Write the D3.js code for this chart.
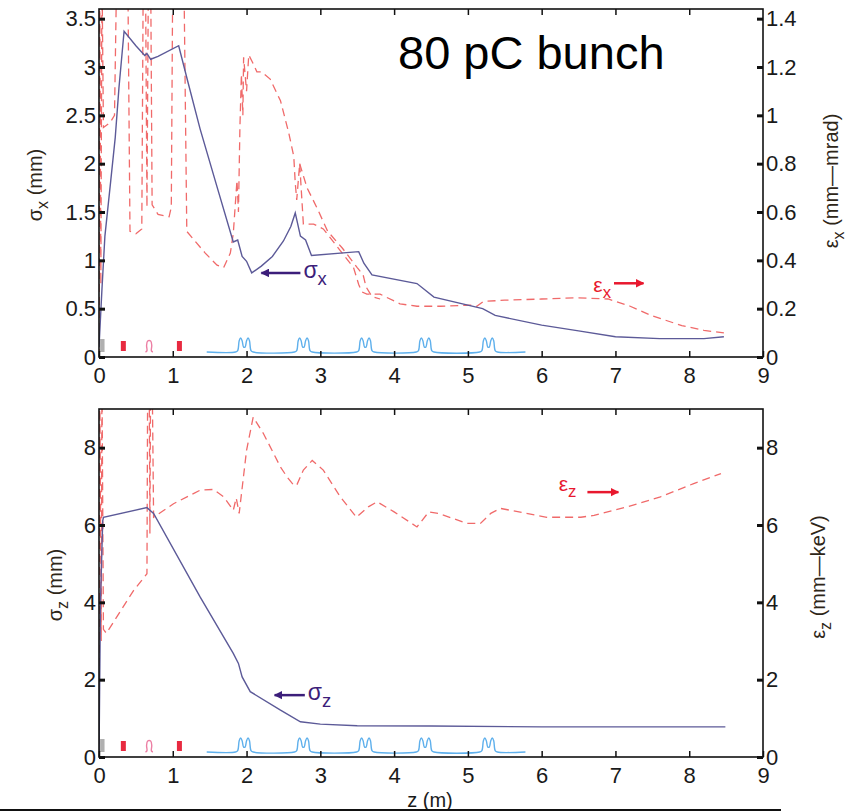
<!DOCTYPE html>
<html lang="en">
<head>
    <meta charset="UTF-8">
    <title>80 pC bunch</title>
    <script src="https://cdn.jsdelivr.net/npm/d3@7"></script>
    <style>
        body { margin: 0; background: #fff; }
        text { font-family: "Liberation Sans", Arial, sans-serif; }
    </style>
</head>
<body>
<div id="container"></div>
<script>
    // ---- data (z in m) ----
    const zTicks = [0, 1, 2, 3, 4, 5, 6, 7, 8, 9];
    const sigxTicks = [0, 0.5, 1, 1.5, 2, 2.5, 3, 3.5];
    const emitxTicks = [0, 0.2, 0.4, 0.6, 0.8, 1, 1.2, 1.4];
    const sigzTicks = [0, 2, 4, 6, 8];
    const emitzTicks = [0, 2, 4, 6, 8];

    // sigma_x (mm), left axis of top panel
    const sigmaX = [[0, 0.1], [0.04, 0.7], [0.08, 1.25], [0.16, 1.83], [0.22, 2.27], [0.27, 2.78], [0.34, 3.37],
        [0.5, 3.22], [0.62, 3.12], [0.65, 3.14], [0.7, 3.08], [0.8, 3.11], [1.08, 3.22], [1.2, 2.86],
        [1.37, 2.36], [1.6, 1.76], [1.82, 1.19], [1.88, 1.21], [1.94, 1.04], [2.0, 0.99], [2.07, 0.87],
        [2.2, 0.94], [2.35, 1.04], [2.5, 1.2], [2.6, 1.35], [2.66, 1.49], [2.73, 1.25], [2.8, 1.21],
        [2.88, 1.05], [3.52, 1.09], [3.59, 0.97], [3.7, 0.85], [4.31, 0.76], [4.54, 0.62], [5.2, 0.5],
        [5.37, 0.43], [6.0, 0.33], [6.5, 0.27], [7.0, 0.21], [7.6, 0.19], [8.2, 0.19], [8.47, 0.21]];

    // emittance x (mm-mrad), right axis of top panel
    const emitX = [[0, 0.0], [0.01, 1.6], [0.025, 0.3], [0.04, 1.6], [0.06, 0.95], [0.15, 0.97], [0.21, 1.0],
        [0.24, 1.6], [0.39, 1.6], [0.42, 0.52], [0.5, 0.51], [0.58, 0.53], [0.6, 1.6], [0.63, 1.6],
        [0.65, 0.62], [0.67, 1.6], [0.7, 1.6], [0.72, 0.63], [0.76, 0.61], [0.8, 0.59], [0.95, 0.58],
        [0.98, 0.62], [1.0, 1.6], [1.15, 1.6], [1.19, 0.52], [1.3, 0.48], [1.44, 0.43], [1.6, 0.38],
        [1.69, 0.37], [1.78, 0.43], [1.82, 0.51], [1.87, 0.73], [1.89, 0.6], [1.91, 0.95], [1.93, 1.17],
        [1.95, 1.0], [1.96, 1.24], [2.0, 1.1], [2.03, 1.25], [2.08, 1.22], [2.14, 1.18], [2.2, 1.18],
        [2.32, 1.15], [2.46, 1.06], [2.57, 0.93], [2.64, 0.83], [2.66, 0.72], [2.68, 0.65], [2.72, 0.8],
        [2.77, 0.55], [2.91, 0.55], [3.04, 0.53], [3.27, 0.44], [3.45, 0.37], [3.52, 0.3], [3.56, 0.27],
        [3.63, 0.26], [3.81, 0.26], [4.08, 0.22], [4.31, 0.21], [4.63, 0.21], [5.03, 0.215], [5.12, 0.21],
        [5.21, 0.23], [5.5, 0.235], [6.0, 0.24], [6.5, 0.245], [6.9, 0.24], [7.2, 0.21], [7.5, 0.17],
        [7.9, 0.13], [8.2, 0.11], [8.47, 0.1]];
    const emitXBranch = [[2.72, 0.8], [2.82, 0.7], [2.95, 0.62], [3.1, 0.52], [3.3, 0.45], [3.5, 0.37],
        [3.58, 0.34], [3.62, 0.29], [3.7, 0.25], [3.81, 0.24]];

    // sigma_z (mm), left axis of bottom panel
    const sigmaZ = [[0, 0], [0.02, 4.0], [0.05, 6.1], [0.06, 6.2], [0.65, 6.45], [0.74, 6.3], [1.37, 4.14],
        [1.82, 2.68], [1.89, 2.42], [1.94, 2.07], [2.05, 1.69], [2.46, 1.21], [2.73, 0.91], [3.0, 0.85],
        [3.5, 0.81], [4.5, 0.8], [6.0, 0.78], [8.49, 0.78]];

    // emittance z (mm-keV), right axis of bottom panel
    const emitZ = [[0, 0], [0.01, 10], [0.03, 3.0], [0.04, 10], [0.06, 3.3], [0.1, 3.2], [0.47, 4.31],
        [0.65, 4.74], [0.66, 10], [0.68, 10], [0.69, 5.78], [0.7, 10], [0.72, 10], [0.74, 6.2],
        [1.01, 6.55], [1.37, 6.9], [1.55, 6.92], [1.69, 6.73], [1.82, 6.38], [1.86, 6.7], [1.9, 6.3],
        [2.0, 7.93], [2.09, 8.79], [2.23, 8.36], [2.46, 7.5], [2.55, 7.24], [2.64, 7.03], [2.68, 7.03],
        [2.77, 7.42], [2.89, 7.67], [3.04, 7.42], [3.27, 6.73], [3.49, 6.2], [3.65, 6.47], [3.77, 6.6],
        [4.0, 6.34], [4.31, 5.95], [4.47, 6.34], [4.6, 6.3], [4.99, 6.04], [5.17, 6.04], [5.31, 6.3],
        [5.44, 6.43], [6.07, 6.2], [6.53, 6.2], [6.71, 6.25], [7.16, 6.47], [7.61, 6.73], [8.06, 7.07],
        [8.43, 7.33]];

    // beamline layout
    const gunZ = [0.015, 0.075];
    const solenoidZ = [0.33, 1.09];
    const buncherZ = [0.68];
    const linacRange = [1.46, 5.78];
    const cavityZ = [1.97, 2.77, 3.61, 4.42, 5.28];
    const cavityProfile = [[-0.12, 0], [-0.09, 0.1], [-0.07, 0.8], [-0.05, 1], [-0.03, 0.8], [-0.01, 0.35],
        [0.01, 0.35], [0.03, 0.8], [0.05, 1], [0.07, 0.8], [0.09, 0.1], [0.12, 0]];
    const buncherProfile = [[-0.05, 0], [-0.03, 0.1], [-0.035, 0.6], [-0.02, 1], [0.02, 1], [0.035, 0.6],
        [0.03, 0.1], [0.05, 0]];

    // ---- layout ----
    const width = 850, height = 812;
    const left = 99, right = 763;
    const sigmaCol = "#5c5a98", emitCol = "#f06a6a";
    const svg = d3.select("#container").append("svg")
        .attr("width", width).attr("height", height);
    svg.append("rect").attr("width", width).attr("height", height).attr("fill", "#fff");

    const x = d3.scaleLinear().domain([0, 9]).range([left, right]);
    const fmt = d => String(+d.toFixed(1));

    function subLabel(g, base, sub, rest, opts) {
        const t = g.append("text")
            .attr("transform", `translate(${opts.x},${opts.y}) rotate(${opts.rot || 0})`)
            .attr("text-anchor", opts.anchor || "middle")
            .attr("font-size", opts.size)
            .attr("fill", opts.color);
        t.append("tspan").text(base);
        t.append("tspan").text(sub).attr("dy", opts.size * 0.3).attr("font-size", opts.size * 0.8);
        if (rest) t.append("tspan").text(rest).attr("dy", -opts.size * 0.3);
        return t;
    }

    function panel(cfg) {
        const yl = d3.scaleLinear().domain(cfg.leftDomain).range([cfg.bottom, cfg.top]);
        const yr = d3.scaleLinear().domain(cfg.rightDomain).range([cfg.bottom, cfg.top]);
        const g = svg.append("g");
        const clipId = "clip" + cfg.id;
        svg.append("clipPath").attr("id", clipId).append("rect")
            .attr("x", left).attr("y", cfg.top).attr("width", right - left).attr("height", cfg.bottom - cfg.top);

        // beamline layout markers
        const base = cfg.bottom - 5;
        g.append("rect").attr("x", x(gunZ[0])).attr("width", x(gunZ[1]) - x(gunZ[0]))
            .attr("y", base - 13).attr("height", 13).attr("fill", "#b0b0b0");
        solenoidZ.forEach(z => g.append("rect").attr("x", x(z) - 2.5).attr("width", 5)
            .attr("y", base - 11).attr("height", 10).attr("fill", "#e82a40"));
        const bline = d3.line().x(d => x(d[0])).y(d => base - d[1]).curve(d3.curveCatmullRom);
        buncherZ.forEach(z => g.append("path")
            .attr("d", bline(buncherProfile.map(p => [z + p[0], p[1] * 11])))
            .attr("fill", "none").attr("stroke", "#ec7fa4").attr("stroke-width", 1.4));
        const lin = [[linacRange[0], 0]];
        cavityZ.forEach(z => cavityProfile.forEach(p => lin.push([z + p[0], p[1] * 14])));
        lin.push([linacRange[1], 0]);
        g.append("path").attr("d", bline(lin)).attr("fill", "none")
            .attr("stroke", "#5fb0ec").attr("stroke-width", 1.4);

        // curves
        const cg = g.append("g").attr("clip-path", `url(#${clipId})`);
        const lineL = d3.line().x(d => x(d[0])).y(d => yl(d[1]));
        const lineR = d3.line().x(d => x(d[0])).y(d => yr(d[1]));
        cfg.emit.forEach(s => cg.append("path").attr("d", lineR(s)).attr("fill", "none")
            .attr("stroke", emitCol).attr("stroke-width", 1.3).attr("stroke-dasharray", "8,5"));
        cg.append("path").attr("d", lineL(cfg.sigma)).attr("fill", "none")
            .attr("stroke", sigmaCol).attr("stroke-width", 1.4);

        // frame and axes (ticks pointing inward)
        g.append("rect").attr("x", left).attr("y", cfg.top).attr("width", right - left)
            .attr("height", cfg.bottom - cfg.top).attr("fill", "none").attr("stroke", "#111").attr("stroke-width", 1.6);
        const style = a => {
            a.select(".domain").remove();
            a.selectAll(".tick line").attr("stroke", "#111").attr("stroke-width", 1.5);
            a.selectAll(".tick text").attr("font-size", 22).attr("fill", "#1a1a1a")
                .attr("font-family", "Liberation Sans, Arial, sans-serif");
        };
        g.append("g").attr("transform", `translate(0,${cfg.bottom})`)
            .call(d3.axisBottom(x).tickValues(zTicks).tickFormat(d3.format("d")).tickSizeInner(-6).tickSizeOuter(0).tickPadding(10))
            .call(style);
        g.append("g").attr("transform", `translate(0,${cfg.top})`)
            .call(d3.axisTop(x).tickValues(zTicks.slice(1, -1)).tickFormat("").tickSizeInner(-6).tickSizeOuter(0))
            .call(style);
        g.append("g").attr("transform", `translate(${left},0)`)
            .call(d3.axisLeft(yl).tickValues(cfg.leftTicks).tickFormat(fmt).tickSizeInner(-6).tickSizeOuter(0).tickPadding(3))
            .call(style).selectAll(".tick line").attr("stroke-width", 3);
        g.append("g").attr("transform", `translate(${right},0)`)
            .call(d3.axisRight(yr).tickValues(cfg.rightTicks).tickFormat(fmt).tickSizeInner(-6).tickSizeOuter(0).tickPadding(3))
            .call(style).selectAll(".tick line").attr("stroke-width", 3);
        return {yl, yr};
    }

    const topP = panel({
        id: "a", top: 9, bottom: 357, leftDomain: [0, 3.6], rightDomain: [0, 1.44],
        leftTicks: sigxTicks, rightTicks: emitxTicks, sigma: sigmaX, emit: [emitX, emitXBranch]
    });
    const botP = panel({
        id: "b", top: 409, bottom: 757, leftDomain: [0, 9], rightDomain: [0, 9],
        leftTicks: sigzTicks, rightTicks: emitzTicks, sigma: sigmaZ, emit: [emitZ]
    });

    // axis titles
    const labCol = "#2e2618";
    subLabel(svg, "σ", "x", " (mm)", {x: 42, y: 185, rot: -90, size: 20, color: labCol});
    subLabel(svg, "ε", "x", " (mm\u2014mrad)", {x: 838, y: 181, rot: -90, size: 20, color: labCol});
    subLabel(svg, "σ", "z", " (mm)", {x: 62, y: 585, rot: -90, size: 20, color: labCol});
    subLabel(svg, "ε", "z", " (mm\u2014keV)", {x: 825, y: 577, rot: -90, size: 20, color: labCol});
    svg.append("text").attr("x", 430).attr("y", 807).attr("text-anchor", "middle")
        .attr("font-size", 20).attr("fill", "#1a1a1a").text("z (m)");

    // title
    svg.append("text").attr("x", 398).attr("y", 69).attr("font-size", 47).attr("fill", "#000").text("80 pC bunch");

    // annotations with arrows
    const defs = svg.append("defs");
    [["arrP", "#3c1e7a"], ["arrR", "#e8182e"]].forEach(([id, c]) => defs.append("marker")
        .attr("id", id).attr("viewBox", "0 0 10 10").attr("refX", 9).attr("refY", 5)
        .attr("markerWidth", 3.5).attr("markerHeight", 3.5).attr("orient", "auto")
        .append("path").attr("d", "M0,0L10,5L0,10z").attr("fill", c));

    function arrow(x1, y1, x2, y2, id, c) {
        svg.append("line").attr("x1", x1).attr("y1", y1).attr("x2", x2).attr("y2", y2)
            .attr("stroke", c).attr("stroke-width", 2.5).attr("marker-end", `url(#${id})`);
    }
    arrow(x(2.73), topP.yl(0.87), x(2.2), topP.yl(0.87), "arrP", "#3c1e7a");
    subLabel(svg, "σ", "x", "", {x: x(2.73) + 3, y: topP.yl(0.87) + 5, anchor: "start", size: 23, color: "#3c1e7a"});
    subLabel(svg, "ε", "x", "", {x: x(6.7), y: topP.yr(0.27), anchor: "start", size: 21, color: "#e8182e"});
    arrow(x(6.98), topP.yr(0.305), x(7.38), topP.yr(0.305), "arrR", "#e8182e");
    arrow(x(2.79), botP.yl(1.6), x(2.38), botP.yl(1.6), "arrP", "#3c1e7a");
    subLabel(svg, "σ", "z", "", {x: x(2.79) + 3, y: botP.yl(1.6) + 5, anchor: "start", size: 23, color: "#3c1e7a"});
    subLabel(svg, "ε", "z", "", {x: x(6.23), y: botP.yr(6.88), anchor: "start", size: 21, color: "#e8182e"});
    arrow(x(6.62), botP.yr(6.85), x(7.04), botP.yr(6.85), "arrR", "#e8182e");

    // page edge line under the figure
    svg.append("line").attr("x1", 0).attr("x2", 781).attr("y1", 810).attr("y2", 810)
        .attr("stroke", "#111").attr("stroke-width", 2);
</script>
</body>
</html>
